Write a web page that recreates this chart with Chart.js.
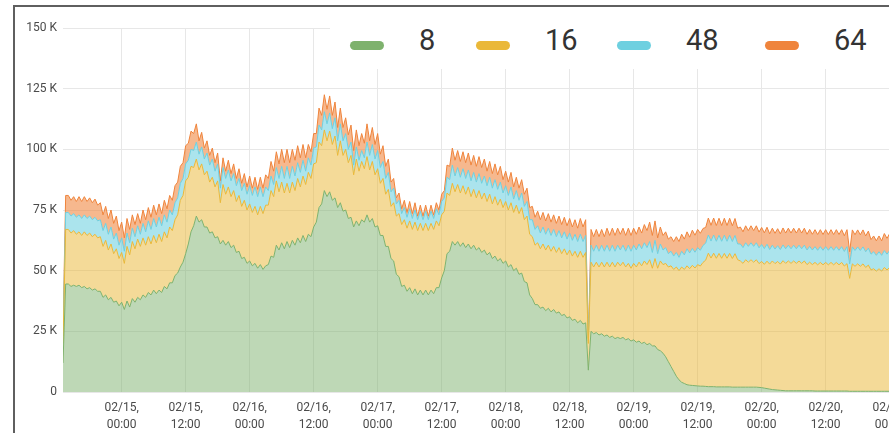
<!DOCTYPE html>
<html lang="en">
  <head>
    <meta charset="UTF-8" />
    <title>Stacked series 8 / 16 / 48 / 64</title>
    <script src="https://cdn.jsdelivr.net/npm/chart.js"></script>
    <style>
      html, body { margin: 0; padding: 0; width: 889px; height: 433px; overflow: hidden; background: #fff; }
      #frame { position: absolute; left: 13px; top: 5px; width: 1000px; height: 600px;
               border-left: 2px solid #5f5f5f; border-top: 2px solid #5f5f5f; }
      #chart { position: absolute; left: 0; top: 0; }
      #legend { position: absolute; left: 330px; top: 7px; width: 600px; height: 62px; background: #fff; }
      .swatch { position: absolute; top: 34px; width: 34px; height: 9px; border-radius: 5px; }
      .name { position: absolute; top: 19px; font: 29px Roboto, sans-serif; line-height: 1; color: #333; }
    </style>
  </head>
  <body>
    <div id="frame"></div>
    <canvas id="chart" width="920" height="440"></canvas>
    <div id="legend"></div>
    <script>
      // hours since 02/15 00:00, sampled every half hour from 02/14 13:00
      const hours = [];
      for (let h = -11; h <= 145; h += 0.5) hours.push(h);

      const seriesNames = ["8", "16", "48", "64"];
      const lineColors = ["#7EB26D", "#EAB839", "#6ED0E0", "#EF843C"];
      const fillColors = ["rgba(126,178,109,0.5)", "rgba(234,184,57,0.52)", "rgba(110,208,224,0.58)", "rgba(239,132,60,0.58)"];

      const tickHours = [0, 12, 24, 36, 48, 60, 72, 84, 96, 108, 120, 132, 144];
      const tickDates = ["02/15,", "02/15,", "02/16,", "02/16,", "02/17,", "02/17,", "02/18,", "02/18,", "02/19,", "02/19,", "02/20,", "02/20,", "02/21,"];
      const tickTimes = ["00:00", "12:00", "00:00", "12:00", "00:00", "12:00", "00:00", "12:00", "00:00", "12:00", "00:00", "12:00", "00:00"];

      // values in K, one row per 12 hours (first row starts 02/14 13:00)
      const s8 = [
        12, 44.5, 44.5, 43.5, 44, 43.5, 44, 43, 43.5, 42.5, 43, 42, 42.5, 41.5, 41.5, 39, 40, 38, 39, 37, 37.5, 35.5,
        37, 34, 37.5, 35, 38.5, 37, 39, 38, 40, 39, 41, 40, 42, 40.5, 42, 41, 43.5, 42.5, 45, 45, 48, 49, 51.5, 53.5,
        57, 61, 66, 68.5, 72.5, 70, 71, 68, 68, 65.5, 66, 63.5, 64, 61, 62.5, 60.5, 62, 59.5, 60.5, 57.5, 58, 55, 55.5, 53,
        54, 52, 53, 51, 52.5, 50.5, 52, 52.5, 56, 55.5, 60.5, 58.5, 61.5, 59, 62, 59.5, 62.5, 60.5, 63.5, 61.5, 64.5, 62, 65, 64,
        68, 70, 76, 77.5, 83, 80.5, 82.5, 79, 80, 76, 78, 74.5, 75, 71.5, 72, 68, 70.5, 68.5, 71, 70, 73, 70, 71.5, 68,
        68.5, 64.5, 64.5, 60, 60, 55, 54, 48.5, 47.5, 43.5, 44, 41.5, 43, 40.5, 42.5, 40, 42, 40, 42, 40, 42, 40.5, 43, 43,
        47, 50, 57, 58, 62, 60.5, 62, 60, 61.5, 59.5, 61, 59, 60.5, 58.5, 59.5, 57.5, 58.5, 56.5, 57.5, 55, 56, 54, 55, 53,
        54, 51.5, 52.5, 50, 51, 48.5, 49, 45.5, 45, 40, 38.5, 36, 36, 34.5, 35, 33.5, 34.5, 33, 34, 32.5, 33, 31.5, 32, 30.5,
        31, 29.5, 30, 28.5, 29.5, 28, 28.5, 9, 25, 24, 24.5, 23.5, 24, 23, 23.5, 22.5, 23, 22, 22.5, 22, 22.5, 21.5, 22, 21,
        21.5, 20.5, 21, 20, 20.5, 19.5, 20, 19, 19, 17.5, 17, 16, 14.5, 12.5, 10.5, 8.5, 6.5, 5, 4, 3.5, 3, 2.8, 2.7, 2.6,
        2.5, 2.4, 2.4, 2.3, 2.2, 2.2, 2.2, 2.1, 2.1, 2.1, 2.1, 2.1, 2.1, 2, 2, 2, 2, 2, 2, 2, 2, 2, 2, 1.9,
        1.8, 1.6, 1.4, 1.2, 1, 0.9, 0.8, 0.7, 0.6, 0.5, 0.5, 0.5, 0.5, 0.5, 0.5, 0.5, 0.5, 0.5, 0.5, 0.5, 0.4, 0.4, 0.4, 0.4,
        0.4, 0.4, 0.4, 0.4, 0.4, 0.4, 0.4, 0.4, 0.4, 0.3, 0.3, 0.3, 0.3, 0.3, 0.3, 0.3, 0.3, 0.3, 0.3, 0.3, 0.3, 0.3, 0.3, 0.3,
        0.3, 0.3, 0.3
      ];
      const s16 = [
        8, 22.5, 22.5, 22, 22.5, 21.5, 22, 21.5, 22.5, 22, 22.5, 22, 22.5, 22, 22.5, 21, 22.5, 20.5, 22, 20, 21.5, 19.5,
        20.5, 19, 22.5, 21.5, 23.5, 22, 24, 22, 23.5, 21.5, 23, 21, 22.5, 21, 23, 21, 22.5, 21, 23, 21.5, 23, 24, 27.5, 27.5,
        30, 27.5, 27, 24, 23.5, 21.5, 23, 21.5, 23, 21, 22.5, 21, 23, 17, 23, 21, 22.5, 21, 22.5, 21, 23, 21.5, 23.5, 22,
        23.5, 22, 23.5, 22, 24, 23, 25, 24.5, 27, 25, 26.5, 24, 25, 23, 24, 22.5, 24, 22.5, 24.5, 23, 24.5, 23.5, 25.5, 24,
        26, 24.5, 27, 24, 25, 23, 25, 23, 25.5, 21.5, 25.5, 23, 25, 23, 25.5, 21.5, 25.5, 22.5, 24, 22, 24, 21.5, 23.5, 21.5,
        23.5, 21.5, 23.5, 21.5, 23.5, 21.5, 24, 24, 26, 25.5, 27, 26, 27.5, 26.5, 27.5, 26.5, 27.5, 26.5, 27.5, 26.5, 27.5, 26.5, 27.5, 25.5,
        26, 24.5, 25, 23, 24, 22, 23.5, 22, 23.5, 22, 23.5, 21.5, 23, 21.5, 23.5, 22, 23.5, 22, 24, 22.5, 24.5, 23, 24.5, 23,
        24.5, 23.5, 25.5, 24, 26, 25, 27, 25.5, 27.5, 25, 25.5, 24.5, 25.5, 24.5, 26, 25, 26, 25, 26, 25, 26.5, 25.5, 27, 26,
        27.5, 26.5, 28, 27, 28.5, 27.5, 29, 11, 28.5, 27.5, 29, 28, 29.5, 28.5, 30, 29, 30.5, 29.5, 31, 30, 31, 30, 31, 30,
        31.5, 31, 32.5, 32, 33.5, 33, 34.5, 32, 36, 33.5, 37, 36.5, 38.5, 39, 41.5, 42, 45, 45, 47.5, 47, 49, 48, 49.5, 48.5,
        50, 49.5, 51, 52, 55, 53, 55, 53, 55, 53, 55, 53, 55, 53, 55, 52.5, 52, 51, 52.5, 51.5, 52.5, 51.5, 52.5, 51,
        52, 51, 52.5, 51.5, 53, 52, 53, 52, 53.5, 52.5, 53.5, 52.5, 53.5, 52.5, 53.5, 52.5, 53.5, 52, 53, 52, 53, 52, 53, 52,
        53, 52, 53, 52, 53, 52, 53, 51.5, 52.5, 46.5, 52.5, 51.5, 52.5, 51.5, 52.5, 51, 52, 50, 50.5, 49.5, 50.5, 49.5, 51, 50,
        51, 50, 51
      ];
      const s48 = [
        3, 7, 7, 7, 7, 7, 7, 7, 7, 7, 7, 7, 7, 7, 7, 6.5, 7, 6.5, 7, 6, 6.5, 5.5,
        6, 5, 5.5, 5, 5.5, 5, 5.5, 5, 6, 5.5, 6.5, 6, 7, 6.5, 7, 6.5, 7, 6.5, 7, 6.5, 7, 7, 7, 7,
        7, 7, 7, 7, 7, 6.5, 7, 6.5, 7.5, 7, 7.5, 6.5, 7, 6, 7, 6.5, 7, 6.5, 7, 6.5, 7, 6.5, 7, 6.5,
        7.5, 7, 8, 7.5, 8, 7, 7.5, 6, 6, 5, 5.5, 5.5, 6.5, 6, 7, 6, 6.5, 6, 6.5, 6, 6.5, 5.5, 6, 5.5,
        6.5, 6.5, 7, 6.5, 7.5, 7, 7.5, 6.5, 7.5, 6, 7, 6, 6.5, 5.5, 5.5, 4, 5, 4.5, 4.5, 4.5, 6, 6, 7, 6.5,
        7.5, 6.5, 7, 6.5, 7, 6, 6, 5, 5.5, 4.5, 5, 4.5, 5, 4.5, 5, 4.5, 5, 4.5, 5, 4.5, 5, 4.5, 5, 4.5,
        5.5, 5.5, 6.5, 6.5, 7.5, 6.5, 7, 6.5, 7, 6.5, 7, 6.5, 7, 6.5, 7, 6.5, 7, 6.5, 7, 6.5, 7, 6.5, 7, 6,
        6.5, 6, 6.5, 5.5, 6, 5.5, 6, 5.5, 6, 6, 7, 6.5, 7, 6.5, 7, 6.5, 7, 6.5, 7, 6.5, 7, 6.5, 7, 6.5,
        7, 6.5, 7, 6.5, 7, 6.5, 7, 1, 7, 6.5, 7, 6.5, 7, 6.5, 7, 6.5, 7, 6.5, 7, 6.5, 7, 6.5, 7.5, 7,
        7.5, 7, 7.5, 7, 7.5, 7, 7.5, 6.5, 7.5, 6, 7, 6, 6.5, 5.5, 6, 5.5, 6, 5.5, 6.5, 6, 7, 6.5, 7, 6.5,
        7, 6.5, 7, 7, 7.5, 7, 7.5, 7, 7.5, 7, 7.5, 7, 7.5, 7, 7.5, 6.5, 7, 6.5, 7, 6.5, 7, 6.5, 7, 6.5,
        7, 6.5, 7, 6, 6.5, 6, 6.5, 6, 6.5, 6, 6.5, 6, 6.5, 6, 6.5, 6, 6.5, 6, 6.5, 6, 6.5, 6, 6.5, 6,
        6.5, 6, 6.5, 6, 6.5, 6, 6.5, 6, 7, 6, 7, 6.5, 7, 6.5, 7, 6.5, 7, 6.5, 7, 6.5, 7, 6.5, 7, 6.5,
        7, 6.5, 7
      ];
      const s64 = [
        3, 7, 7, 6.5, 7, 6.5, 7.5, 7, 7.5, 7, 7.5, 7, 7.5, 6.5, 7, 6.5, 7, 6.5, 7, 6.5, 7, 6,
        6.5, 5.5, 6, 5.5, 5.5, 5, 5, 4.5, 5.5, 5, 5.5, 5, 5.5, 5, 5.5, 5, 6, 5.5, 6, 6, 7, 6.5, 7, 6.5,
        7.5, 7, 7.5, 7, 7.5, 5.5, 6, 4.5, 5, 4, 4.5, 3.5, 4.5, 3, 4, 3, 4, 3, 4, 3, 4, 3, 4, 3,
        4, 3, 4, 3, 4, 3.5, 5, 5, 6, 5.5, 6.5, 6, 7, 6.5, 7, 6.5, 7, 6.5, 7, 6, 6.5, 5.5, 5.5, 5.5,
        6, 5.5, 7, 6, 7, 6, 7, 5.5, 6.5, 5.5, 6.5, 5.5, 6.5, 6, 7, 6, 7, 6, 7, 6, 7.5, 6, 7, 6,
        7, 5.5, 6.5, 5, 5.5, 4, 4, 2.5, 3, 2, 3, 2, 3, 2, 3, 1.5, 2.5, 1.5, 2.5, 1.5, 2.5, 1.5, 2.5, 2,
        3, 3, 5, 5.5, 7, 6.5, 7, 6.5, 7, 6.5, 7, 6.5, 7, 6.5, 7, 6.5, 7, 6, 6.5, 6, 6.5, 6, 6.5, 5.5,
        6, 5.5, 6, 5, 5.5, 5, 5.5, 5, 5.5, 5, 5.5, 5, 6, 5.5, 6, 5.5, 6, 5.5, 6, 5.5, 6, 5.5, 6, 5.5,
        6, 5.5, 6, 5.5, 6.5, 6, 6.5, 1, 6.5, 6, 6.5, 6, 6.5, 6, 7, 6.5, 7, 6.5, 7, 6.5, 7, 6.5, 7, 6.5,
        7, 6.5, 7, 6.5, 7.5, 7, 8, 7, 8, 6.5, 7, 6, 6.5, 6, 6, 6, 6.5, 6.5, 7, 6.5, 7, 6.5, 7.5, 7,
        7.5, 7, 7, 6.5, 7, 6.5, 7, 6.5, 7, 6.5, 7, 6.5, 7, 6.5, 7, 6.5, 7, 6.5, 7, 6.5, 7, 6.5, 7, 6.5,
        7, 6.5, 7, 6.5, 7, 6.5, 7, 6.5, 7, 6.5, 7, 6.5, 7, 6.5, 7, 6.5, 7, 6.5, 7, 6.5, 7, 6.5, 7, 6.5,
        7, 6.5, 7, 6.5, 7, 6.5, 7, 6.5, 7, 5, 7, 6.5, 7, 6.5, 7, 6.5, 7, 6, 6.5, 6, 6.5, 6, 7, 6.5,
        7, 6.5, 7
      ];
      const seriesValues = [s8, s16, s48, s64];

      const gridColor = "#e7e7e7";
      const tickColor = "#4a4a4a";
      Chart.defaults.font.family = "Roboto, sans-serif";

      const datasets = seriesValues.map((values, i) => ({
        label: seriesNames[i],
        data: values,
        borderColor: lineColors[i],
        backgroundColor: fillColors[i],
        borderWidth: 1,
        pointRadius: 0,
        tension: 0,
        fill: i === 0 ? "origin" : "-1",
      }));

      new Chart(document.getElementById("chart"), {
        type: "line",
        data: { labels: hours, datasets: datasets },
        options: {
          responsive: false,
          animation: false,
          layout: { padding: { left: 0, top: 28, right: 25, bottom: 0 } },
          plugins: { legend: { display: false }, tooltip: { enabled: false } },
          scales: {
            x: {
              type: "linear",
              min: -11,
              max: 145,
              afterBuildTicks: (scale) => { scale.ticks = tickHours.map((v) => ({ value: v })); },
              afterFit: (scale) => { scale.height = 48; },
              grid: { color: gridColor, drawTicks: false },
              border: { display: false },
              ticks: {
                autoSkip: false,
                maxRotation: 0,
                padding: 8,
                color: tickColor,
                font: { size: 12, lineHeight: 1.4 },
                callback: (v) => {
                  const i = tickHours.indexOf(v);
                  return i < 0 ? null : [tickDates[i], tickTimes[i]];
                },
              },
            },
            y: {
              stacked: true,
              min: 0,
              max: 150,
              afterFit: (scale) => { scale.width = 63; },
              grid: { color: gridColor, drawTicks: false },
              border: { display: false },
              ticks: {
                stepSize: 25,
                padding: 6,
                color: tickColor,
                font: { size: 12 },
                callback: (v) => (v === 0 ? "0" : v + " K"),
              },
            },
          },
        },
      });

      // legend drawn over the top right of the plot
      const legend = document.getElementById("legend");
      const swatchLeft = [20, 146, 287, 435];
      seriesNames.forEach((name, i) => {
        const sw = document.createElement("div");
        sw.className = "swatch";
        sw.style.left = swatchLeft[i] + "px";
        sw.style.background = lineColors[i];
        legend.appendChild(sw);
        const tx = document.createElement("div");
        tx.className = "name";
        tx.style.left = swatchLeft[i] + 69 + "px";
        tx.textContent = name;
        legend.appendChild(tx);
      });
    </script>
  </body>
</html>
